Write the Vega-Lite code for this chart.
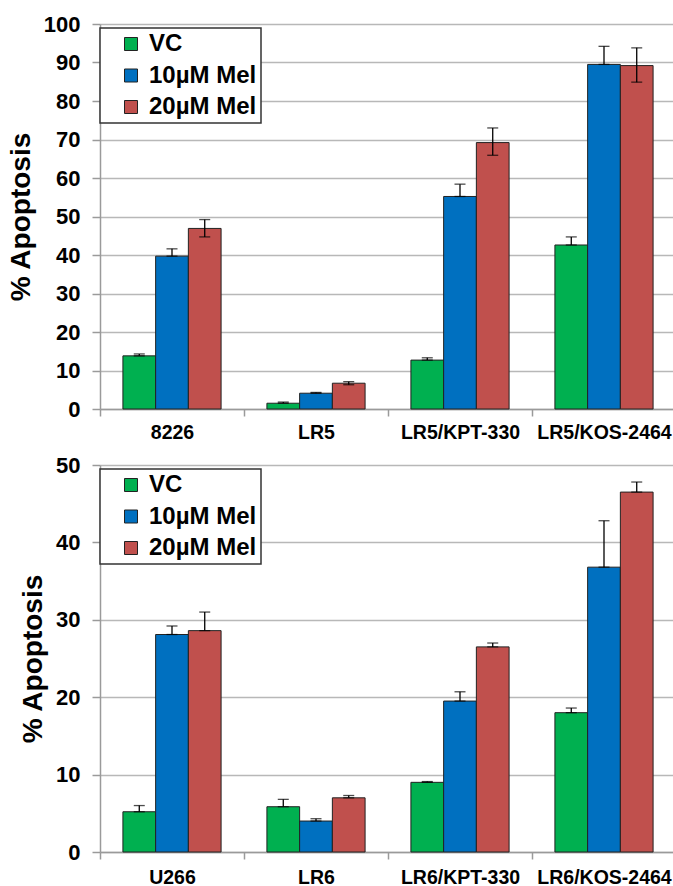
{
  "$schema": "https://vega.github.io/schema/vega-lite/v6.json",
  "background": "white",
  "padding": {"left": 7, "top": 13, "right": 0, "bottom": 0},
  "datasets": {
    "top": [
      {"cell": "8226", "trt": "VC", "v": 13.8, "lo": 13.8, "hi": 14.3},
      {"cell": "8226", "trt": "10µM Mel", "v": 39.7, "lo": 39.7, "hi": 41.6},
      {"cell": "8226", "trt": "20µM Mel", "v": 46.9, "lo": 44.7, "hi": 49.2},
      {"cell": "LR5", "trt": "VC", "v": 1.5, "lo": 1.5, "hi": 1.8},
      {"cell": "LR5", "trt": "10µM Mel", "v": 4.1, "lo": 4.1, "hi": 4.3},
      {"cell": "LR5", "trt": "20µM Mel", "v": 6.7, "lo": 6.3, "hi": 7.1},
      {"cell": "LR5/KPT-330", "trt": "VC", "v": 12.7, "lo": 12.7, "hi": 13.3},
      {"cell": "LR5/KPT-330", "trt": "10µM Mel", "v": 55.2, "lo": 55.2, "hi": 58.4},
      {"cell": "LR5/KPT-330", "trt": "20µM Mel", "v": 69.2, "lo": 65.9, "hi": 73.0},
      {"cell": "LR5/KOS-2464", "trt": "VC", "v": 42.6, "lo": 42.6, "hi": 44.7},
      {"cell": "LR5/KOS-2464", "trt": "10µM Mel", "v": 89.5, "lo": 89.5, "hi": 94.2},
      {"cell": "LR5/KOS-2464", "trt": "20µM Mel", "v": 89.2, "lo": 84.9, "hi": 93.8}
    ],
    "bottom": [
      {"cell": "U266", "trt": "VC", "v": 5.2, "lo": 5.2, "hi": 6.0},
      {"cell": "U266", "trt": "10µM Mel", "v": 28.1, "lo": 28.1, "hi": 29.2},
      {"cell": "U266", "trt": "20µM Mel", "v": 28.6, "lo": 28.6, "hi": 31.0},
      {"cell": "LR6", "trt": "VC", "v": 5.85, "lo": 5.85, "hi": 6.8},
      {"cell": "LR6", "trt": "10µM Mel", "v": 4.0, "lo": 4.0, "hi": 4.3},
      {"cell": "LR6", "trt": "20µM Mel", "v": 7.0, "lo": 7.0, "hi": 7.3},
      {"cell": "LR6/KPT-330", "trt": "VC", "v": 9.0, "lo": 9.0, "hi": 9.1},
      {"cell": "LR6/KPT-330", "trt": "10µM Mel", "v": 19.5, "lo": 19.5, "hi": 20.7},
      {"cell": "LR6/KPT-330", "trt": "20µM Mel", "v": 26.5, "lo": 26.5, "hi": 27.0},
      {"cell": "LR6/KOS-2464", "trt": "VC", "v": 18.0, "lo": 18.0, "hi": 18.6},
      {"cell": "LR6/KOS-2464", "trt": "10µM Mel", "v": 36.8, "lo": 36.8, "hi": 42.8},
      {"cell": "LR6/KOS-2464", "trt": "20µM Mel", "v": 46.5, "lo": 46.5, "hi": 47.8}
    ]
  },
  "config": {
    "font": "Liberation Sans",
    "view": {"stroke": null},
    "axis": {
      "labelFont": "Liberation Sans", "labelFontWeight": "bold", "labelColor": "black",
      "titleFont": "Liberation Sans", "titleFontWeight": "bold", "titleColor": "black",
      "domainColor": "#9a9a9a", "tickColor": "#9a9a9a", "gridColor": "#b8b8b8",
      "domainWidth": 1.5, "tickWidth": 1.5, "gridWidth": 1.5
    },
    "axisY": {"labelFontSize": 22, "titleFontSize": 28, "tickSize": 8, "labelPadding": 12, "titlePadding": 8, "grid": true},
    "axisX": {"labelFontSize": 19.5, "grid": false, "tickSize": 7, "labelPadding": 7, "labelAngle": 0},
    "legend": {
      "strokeColor": "#333", "strokeWidth": 1.5, "fillColor": "white",
      "padding": 4, "rowPadding": 7.5, "symbolOffset": 15,
      "labelFont": "Liberation Sans", "labelFontSize": 24, "labelFontWeight": "bold", "labelColor": "black",
      "symbolType": "square", "symbolSize": 169, "symbolStrokeColor": "#222", "symbolStrokeWidth": 1, "labelOffset": 6
    }
  },
  "spacing": 12,
  "resolve": {"legend": {"color": "independent"}},
  "vconcat": [
    {
      "width": 576, "height": 385,
      "data": {"name": "top"},
      "encoding": {
        "x": {"field": "cell", "type": "nominal", "sort": ["8226", "LR5", "LR5/KPT-330", "LR5/KOS-2464"],
              "scale": {"paddingInner": 0, "paddingOuter": 0},
              "axis": {"title": null, "tickBand": "extent"}},
        "xOffset": {"field": "trt", "type": "nominal", "sort": ["VC", "10µM Mel", "20µM Mel"],
                    "scale": {"paddingInner": 0, "paddingOuter": 0.7}}
      },
      "layer": [
        {
          "mark": {"type": "bar", "stroke": "#222", "strokeWidth": 1},
          "encoding": {
            "y": {"field": "v", "type": "quantitative", "scale": {"domain": [0, 100]},
                  "axis": {"title": "% Apoptosis", "values": [0,10,20,30,40,50,60,70,80,90,100]}},
            "color": {"field": "trt", "type": "nominal",
                      "scale": {"domain": ["VC", "10µM Mel", "20µM Mel"], "range": ["#00B050", "#0070C0", "#C0504D"]},
                      "legend": {"title": null, "orient": "none", "legendX": 0, "legendY": 4, "direction": "vertical", "labelExpr": "datum.label + '\u2002'"}}
          }
        },
        {
          "mark": {"type": "rule", "color": "black", "strokeWidth": 1.3},
          "encoding": {"y": {"field": "lo", "type": "quantitative", "axis": {"title": "% Apoptosis", "values": [0,10,20,30,40,50,60,70,80,90,100]}}, "y2": {"field": "hi"}}
        },
        {
          "mark": {"type": "tick", "color": "black", "thickness": 1.3, "size": 11},
          "encoding": {"y": {"field": "hi", "type": "quantitative", "axis": {"title": "% Apoptosis", "values": [0,10,20,30,40,50,60,70,80,90,100]}}}
        },
        {
          "mark": {"type": "tick", "color": "black", "thickness": 1.3, "size": 11},
          "encoding": {"y": {"field": "lo", "type": "quantitative", "axis": {"title": "% Apoptosis", "values": [0,10,20,30,40,50,60,70,80,90,100]}}}
        }
      ]
    },
    {
      "width": 576, "height": 387,
      "data": {"name": "bottom"},
      "encoding": {
        "x": {"field": "cell", "type": "nominal", "sort": ["U266", "LR6", "LR6/KPT-330", "LR6/KOS-2464"],
              "scale": {"paddingInner": 0, "paddingOuter": 0},
              "axis": {"title": null, "tickBand": "extent", "labelPadding": 9}},
        "xOffset": {"field": "trt", "type": "nominal", "sort": ["VC", "10µM Mel", "20µM Mel"],
                    "scale": {"paddingInner": 0, "paddingOuter": 0.7}}
      },
      "layer": [
        {
          "mark": {"type": "bar", "stroke": "#222", "strokeWidth": 1},
          "encoding": {
            "y": {"field": "v", "type": "quantitative", "scale": {"domain": [0, 50]},
                  "axis": {"title": "% Apoptosis", "values": [0,10,20,30,40,50]}},
            "color": {"field": "trt", "type": "nominal",
                      "scale": {"domain": ["VC", "10µM Mel", "20µM Mel"], "range": ["#00B050", "#0070C0", "#C0504D"]},
                      "legend": {"title": null, "orient": "none", "legendX": 0, "legendY": 4, "direction": "vertical", "labelExpr": "datum.label + '\u2002'"}}
          }
        },
        {
          "mark": {"type": "rule", "color": "black", "strokeWidth": 1.3},
          "encoding": {"y": {"field": "lo", "type": "quantitative", "axis": {"title": "% Apoptosis", "values": [0,10,20,30,40,50]}}, "y2": {"field": "hi"}}
        },
        {
          "mark": {"type": "tick", "color": "black", "thickness": 1.3, "size": 11},
          "encoding": {"y": {"field": "hi", "type": "quantitative", "axis": {"title": "% Apoptosis", "values": [0,10,20,30,40,50]}}}
        },
        {
          "mark": {"type": "tick", "color": "black", "thickness": 1.3, "size": 11},
          "encoding": {"y": {"field": "lo", "type": "quantitative", "axis": {"title": "% Apoptosis", "values": [0,10,20,30,40,50]}}}
        }
      ]
    }
  ]
}
